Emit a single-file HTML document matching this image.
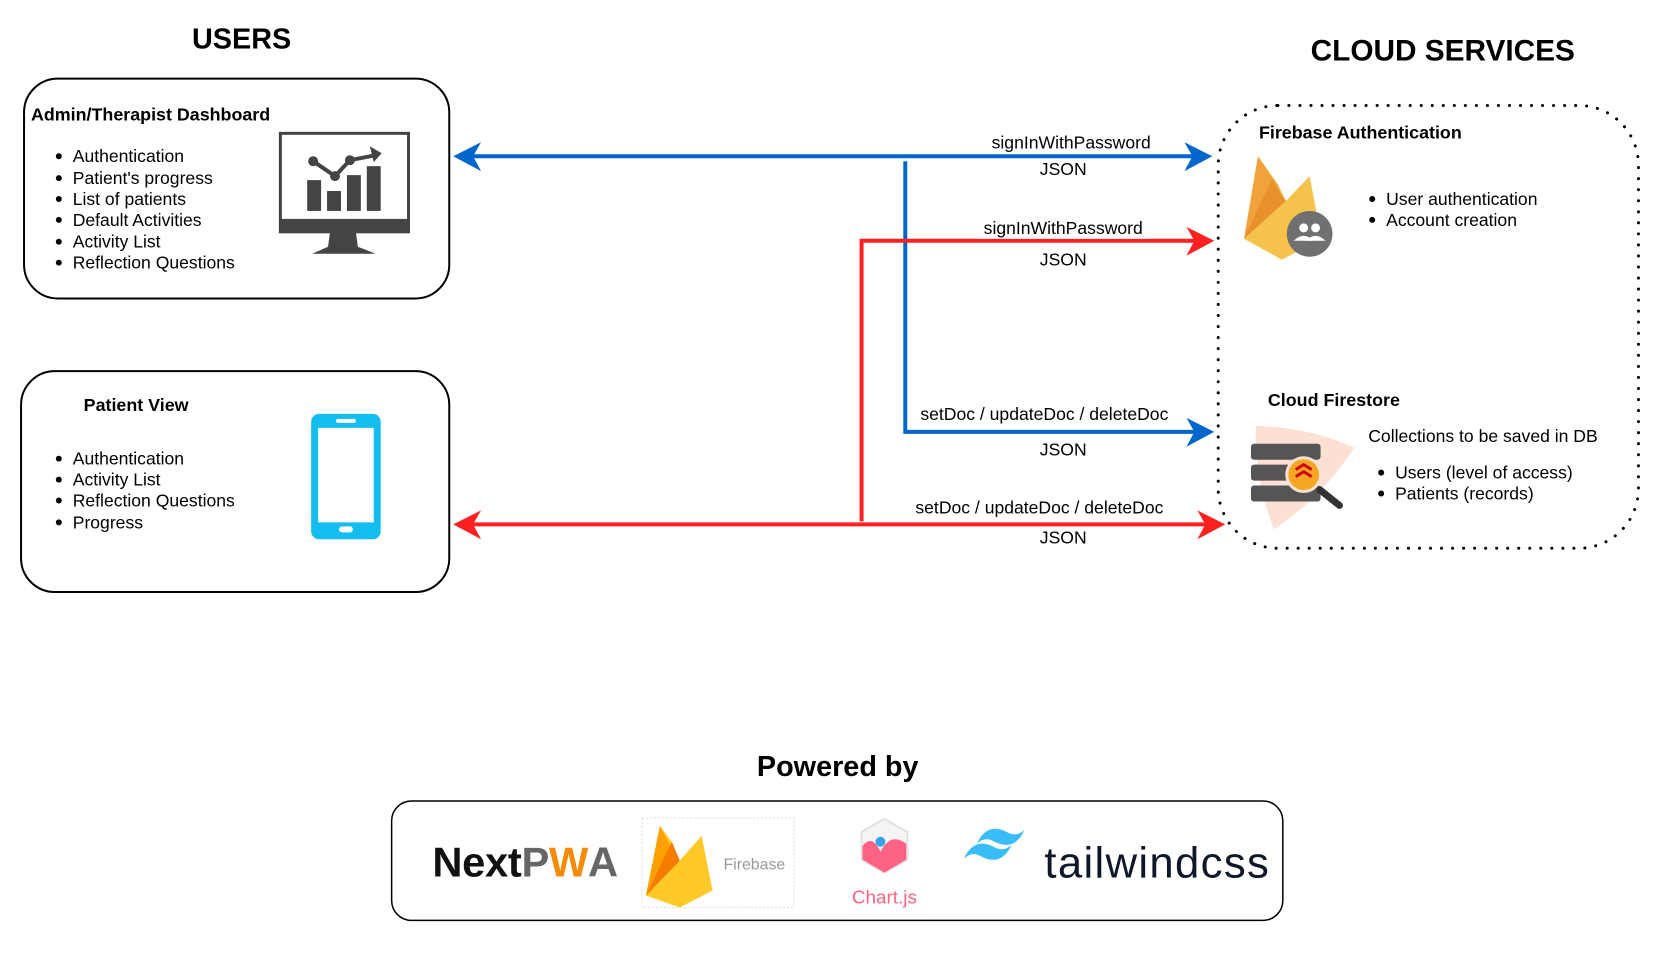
<!DOCTYPE html>
<html><head><meta charset="utf-8"><style>
html,body{margin:0;padding:0;background:#fff;}
svg{display:block;font-family:"Liberation Sans",Arial,sans-serif;}
</style></head><body>
<svg width="1658" height="962" viewBox="0 0 1658 962" xmlns="http://www.w3.org/2000/svg">
<rect width="1658" height="962" fill="#fff"/>
<g transform="matrix(0.9935,0,0,0.995,0.2,0)">
<text x="243" y="49" font-size="29" font-weight="bold" text-anchor="middle">USERS</text>
<text x="1452" y="61" font-size="30" font-weight="bold" text-anchor="middle" textLength="266">CLOUD SERVICES</text>
<text x="843" y="780" font-size="29" font-weight="bold" text-anchor="middle">Powered by</text>

<rect x="24" y="79" width="428" height="221" rx="34" fill="none" stroke="#000" stroke-width="2"/>
<text x="31" y="121" font-size="18" font-weight="bold">Admin/Therapist Dashboard</text>
<g font-size="17.7">
<text x="73" y="163">Authentication</text>
<text x="73" y="185">Patient's progress</text>
<text x="73" y="206">List of patients</text>
<text x="73" y="227">Default Activities</text>
<text x="73" y="249">Activity List</text>
<text x="73" y="270">Reflection Questions</text>
</g>
<g fill="#000"><circle cx="59" cy="157" r="3"/><circle cx="59" cy="179" r="3"/><circle cx="59" cy="200" r="3"/><circle cx="59" cy="221" r="3"/><circle cx="59" cy="243" r="3"/><circle cx="59" cy="264" r="3"/></g>
<g fill="#444">
<rect x="282" y="134" width="129" height="99" fill="none" stroke="#444" stroke-width="3"/>
<rect x="282" y="220" width="129" height="13"/>
<path d="M332 233 L358 233 L360 248 L378 255 L314 255 L330 248 Z"/>
<rect x="309" y="181" width="14" height="31"/><rect x="329" y="192" width="14" height="20"/><rect x="349" y="176" width="14" height="36"/><rect x="369" y="167" width="14" height="45"/>
<polyline points="315,162 337,177 352,161 378,156" fill="none" stroke="#444" stroke-width="4"/>
<circle cx="315" cy="162" r="5"/><circle cx="337" cy="177" r="5"/><circle cx="352" cy="161" r="5"/>
<path d="M372 147 L384 154 L376 163 Z"/>
</g>

<rect x="21" y="373" width="431" height="222" rx="34" fill="none" stroke="#000" stroke-width="2"/>
<text x="84" y="413" font-size="18" font-weight="bold">Patient View</text>
<g font-size="17.7">
<text x="73" y="467">Authentication</text>
<text x="73" y="488">Activity List</text>
<text x="73" y="509">Reflection Questions</text>
<text x="73" y="531">Progress</text>
</g>
<g fill="#000"><circle cx="59" cy="461" r="3"/><circle cx="59" cy="482" r="3"/><circle cx="59" cy="503" r="3"/><circle cx="59" cy="525" r="3"/></g>
<rect x="313" y="416" width="70" height="126" rx="8" fill="#13bdf0"/>
<rect x="320" y="430" width="56" height="95" fill="#fff"/>
<rect x="338" y="421" width="20" height="4" rx="2" fill="#fff"/>
<rect x="341" y="529" width="14" height="6" rx="3" fill="#fff"/>

<rect x="1226" y="106" width="423" height="445" rx="60" fill="none" stroke="#000" stroke-width="3" stroke-dasharray="0.1 11" stroke-linecap="round"/>
<text x="1267" y="139" font-size="18" font-weight="bold">Firebase Authentication</text>
<g transform="translate(7,0)">
<path d="M1259 157 L1245 240 L1283 261 L1323 240 L1311 177 L1287 202 L1279 185 Z" fill="#f5c24b"/>
<path d="M1259 157 L1245 240 L1281 190 Z" fill="#f0a33a"/>
<path d="M1273 180 L1245 240 L1287 202 Z" fill="#e8912b"/>
<circle cx="1311" cy="235" r="23" fill="#707070"/>
<g fill="#fff"><circle cx="1305" cy="229" r="4.5"/><circle cx="1317" cy="229" r="4.5"/><path d="M1295 242 q10 -10 20 0 z"/><path d="M1307 242 q10 -10 20 0 z"/></g>
</g>
<g font-size="17.7"><text x="1395" y="206">User authentication</text><text x="1395" y="227">Account creation</text></g>
<circle cx="1381" cy="200" r="3"/><circle cx="1381" cy="221" r="3"/>

<text x="1276" y="408" font-size="18" font-weight="bold">Cloud Firestore</text>
<text x="1377" y="444" font-size="17.7">Collections to be saved in DB</text>
<g font-size="17.7"><text x="1404" y="481">Users (level of access)</text><text x="1404" y="502">Patients (records)</text></g>
<circle cx="1390" cy="475" r="3"/><circle cx="1390" cy="496" r="3"/>
<path d="M1264 428 Q1320 430 1363 450 Q1330 500 1282 532 Q1262 480 1264 428 Z" fill="#fde0d4"/>
<g fill="#555"><rect x="1259" y="446" width="70" height="16" rx="3"/><rect x="1259" y="467" width="70" height="16" rx="3"/><rect x="1259" y="488" width="70" height="16" rx="3"/></g>
<line x1="1328" y1="492" x2="1348" y2="508" stroke="#333" stroke-width="7" stroke-linecap="round"/>
<circle cx="1312" cy="477" r="17" fill="#f5a623" stroke="#fbe3d3" stroke-width="3"/>
<path d="M1304 472 l8 -5 8 5 M1304 479 l8 -5 8 5" stroke="#d0021b" stroke-width="3" fill="none"/>

<g fill="none" stroke-width="4">
<line x1="470" y1="157" x2="1205" y2="157" stroke="#0066cc"/>
<polyline points="911,162 911,434 1205,434" stroke="#0066cc"/>
<polyline points="867,524 867,242 1205,242" stroke="#ff2020"/>
<line x1="470" y1="527" x2="1218" y2="527" stroke="#ff2020"/>
</g>
<g>
<path d="M456 157 L484 143 L476 157 L484 172 Z" fill="#0066cc"/>
<path d="M1220 157 L1192 143 L1200 157 L1192 172 Z" fill="#0066cc"/>
<path d="M1222 434 L1194 420 L1202 434 L1194 449 Z" fill="#0066cc"/>
<path d="M1222 242 L1194 228 L1202 242 L1194 257 Z" fill="#ff2020"/>
<path d="M456 527 L484 513 L476 527 L484 542 Z" fill="#ff2020"/>
<path d="M1233 527 L1205 513 L1213 527 L1205 542 Z" fill="#ff2020"/>
</g>
<g font-size="17.7" text-anchor="middle">
<rect x="990" y="130" width="180" height="20" fill="#fff"/>
<text x="1078" y="149">signInWithPassword</text>
<text x="1070" y="176">JSON</text>
<rect x="985" y="220" width="170" height="20" fill="#fff"/>
<text x="1070" y="235">signInWithPassword</text>
<text x="1070" y="267">JSON</text>
<text x="1051" y="422">setDoc / updateDoc / deleteDoc</text>
<text x="1070" y="458">JSON</text>
<text x="1046" y="516">setDoc / updateDoc / deleteDoc</text>
<text x="1070" y="546">JSON</text>
</g>

<rect x="394" y="805" width="897" height="120" rx="20" fill="none" stroke="#000" stroke-width="1.5"/>
<text x="435" y="881" font-size="42" font-weight="bold" fill="#111" textLength="187">Next<tspan fill="#666">P</tspan><tspan fill="#f58a07">W</tspan><tspan fill="#666">A</tspan></text>
<rect x="646" y="822" width="153" height="90" fill="none" stroke="#ddd" stroke-dasharray="2 2"/>
<path d="M664 830 L650 900 L684 912 L717 895 L706 840 L684 865 L676 846 Z" fill="#ffca28"/>
<path d="M664 830 L650 900 L677 855 Z" fill="#ffa000"/>
<path d="M676 846 L650 900 L684 865 Z" fill="#f57c00"/>
<text x="728" y="874" font-size="16" fill="#999">Firebase</text>
<path d="M890 823 L913 836 L913 864 L890 877 L867 864 L867 836 Z" fill="#f4f4f4" stroke="#e0e0e0" stroke-width="2"/>
<path d="M868 850 Q878 838 886 856 Q896 836 912 848 L912 864 L890 877 L868 864 Z" fill="#ff6384"/>
<circle cx="886" cy="846" r="5" fill="#36a2eb"/>
<text x="890" y="908" font-size="19" fill="#ff6384" text-anchor="middle">Chart.js</text>
<path d="M970 863 q10 -22 30 -12 q10 6 18 -2 q-10 22 -30 12 q-10 -6 -18 2 z M983 848 q10 -22 30 -12 q10 6 18 -2 q-10 22 -30 12 q-10 -6 -18 2 z" fill="#38bdf8"/>
<text x="1051" y="882" font-size="44" fill="#0f172a" textLength="226">tailwindcss</text>
</g>
</svg>
</body></html>
